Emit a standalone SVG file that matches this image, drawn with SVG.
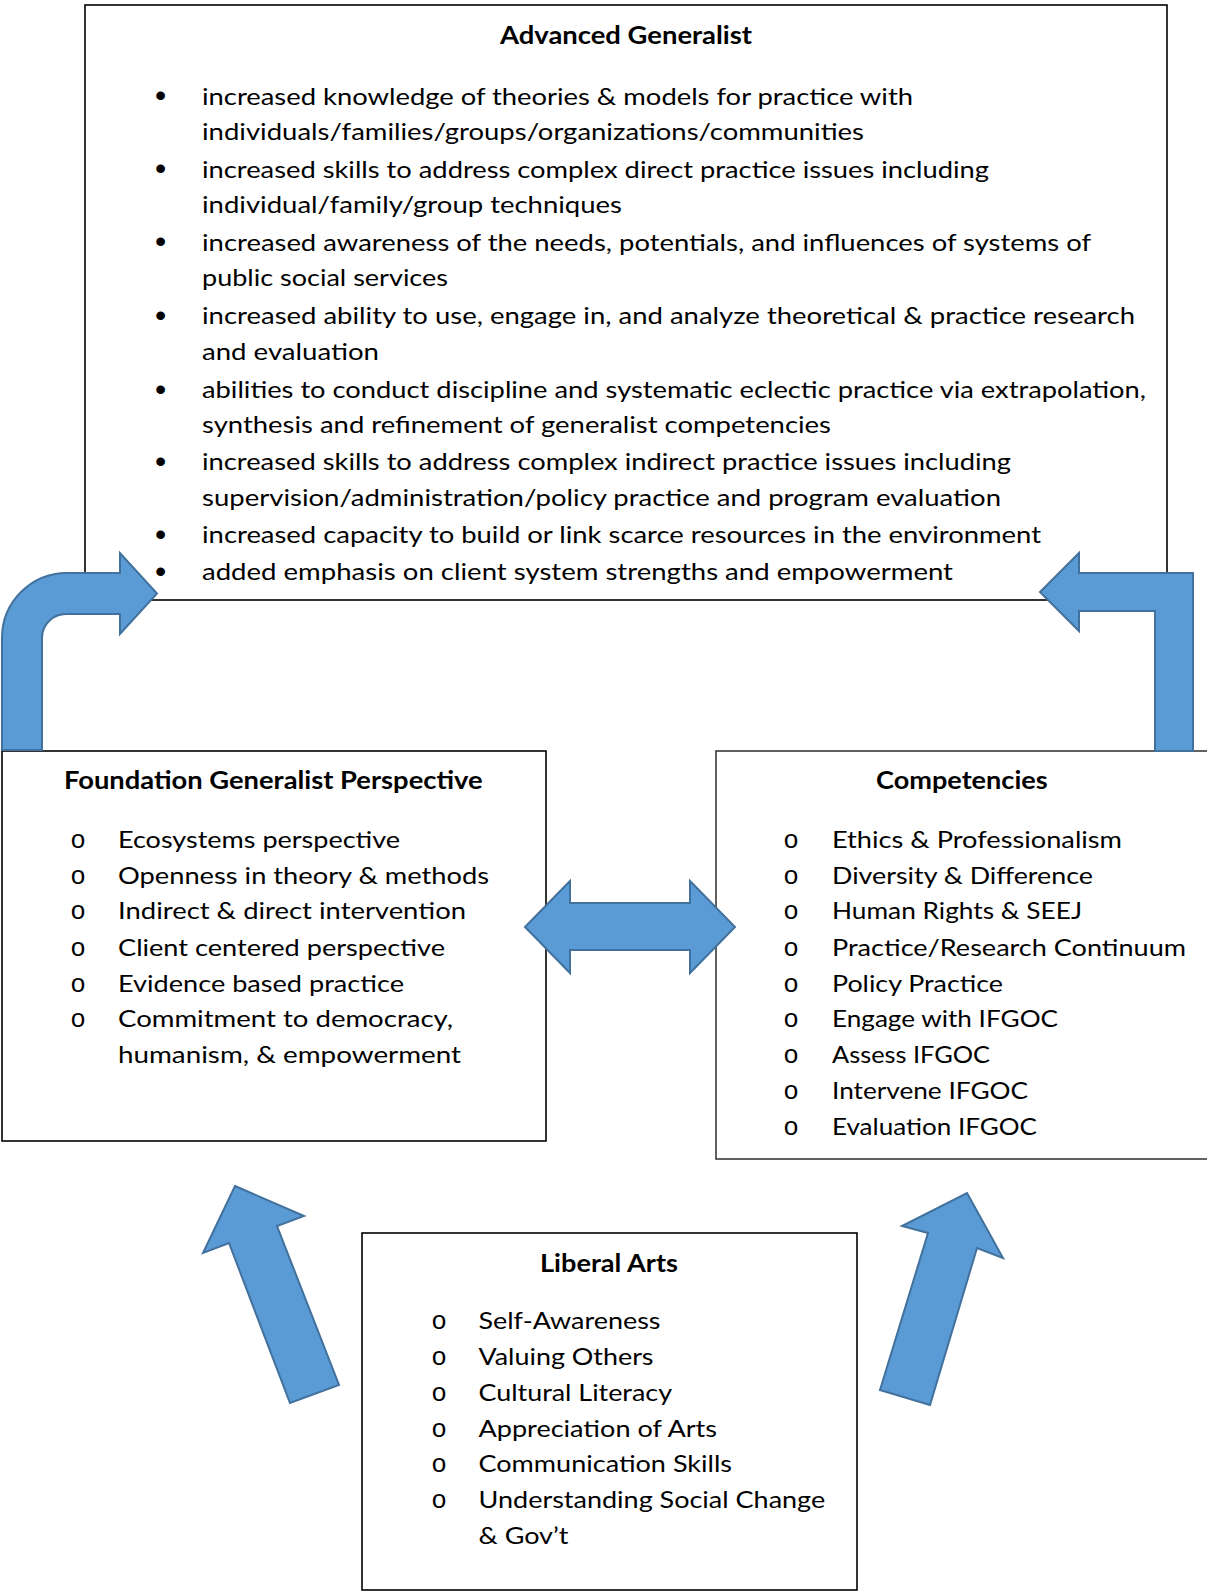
<svg xmlns="http://www.w3.org/2000/svg" width="1207" height="1593" viewBox="0 0 1207 1593">
<style>
.box{fill:#fff;stroke:#000;stroke-width:1.6}
.box2{fill:#fff;stroke:#3a3a3a;stroke-width:1.6}
.t{font-family:Lato,"Open Sans",sans-serif;font-size:24px;fill:#000}
.h{font-family:Lato,"Open Sans",sans-serif;font-size:24px;font-weight:bold;fill:#000}
.b{font-family:"Liberation Sans",Arial,sans-serif;font-size:32px;fill:#000;text-anchor:middle}
.o{font-family:"Liberation Mono","Courier New",monospace;font-size:26px;fill:#000;text-anchor:middle}
.arr{fill:#5b9bd5;stroke:#41719c;stroke-width:2;stroke-linejoin:miter}
</style>
<rect width="1207" height="1593" fill="#fff"/>
<g id="advanced-generalist">
<rect class="box" x="85" y="5" width="1082" height="595"/>
<text class="h" x="500" y="44" textLength="252" lengthAdjust="spacingAndGlyphs">Advanced Generalist</text>
<g transform="translate(0,-2)">
<text class="b" x="160.5" y="108">•</text>
<text class="t" x="202" y="106.5" textLength="711" lengthAdjust="spacingAndGlyphs">increased knowledge of theories &amp; models for practice with</text>
<text class="t" x="202" y="142" textLength="662" lengthAdjust="spacingAndGlyphs">individuals/families/groups/organizations/communities</text>
<text class="b" x="160.5" y="181.2">•</text>
<text class="t" x="202" y="179.7" textLength="787" lengthAdjust="spacingAndGlyphs">increased skills to address complex direct practice issues including</text>
<text class="t" x="202" y="215.2" textLength="420" lengthAdjust="spacingAndGlyphs">individual/family/group techniques</text>
<text class="b" x="160.5" y="254.3">•</text>
<text class="t" x="202" y="252.8" textLength="889" lengthAdjust="spacingAndGlyphs">increased awareness of the needs, potentials, and influences of systems of</text>
<text class="t" x="202" y="288.4" textLength="246" lengthAdjust="spacingAndGlyphs">public social services</text>
<text class="b" x="160.5" y="327.5">•</text>
<text class="t" x="202" y="326" textLength="933" lengthAdjust="spacingAndGlyphs">increased ability to use, engage in, and analyze theoretical &amp; practice research</text>
<text class="t" x="202" y="361.5" textLength="177" lengthAdjust="spacingAndGlyphs">and evaluation</text>
<text class="b" x="160.5" y="401.5">•</text>
<text class="t" x="202" y="400" textLength="944" lengthAdjust="spacingAndGlyphs">abilities to conduct discipline and systematic eclectic practice via extrapolation,</text>
<text class="t" x="202" y="434.7" textLength="629" lengthAdjust="spacingAndGlyphs">synthesis and refinement of generalist competencies</text>
<text class="b" x="160.5" y="473.8">•</text>
<text class="t" x="202" y="472.3" textLength="809" lengthAdjust="spacingAndGlyphs">increased skills to address complex indirect practice issues including</text>
<text class="t" x="202" y="507.8" textLength="799" lengthAdjust="spacingAndGlyphs">supervision/administration/policy practice and program evaluation</text>
<text class="b" x="160.5" y="546.9">•</text>
<text class="t" x="202" y="545.4" textLength="839" lengthAdjust="spacingAndGlyphs">increased capacity to build or link scarce resources in the environment</text>
<text class="b" x="160.5" y="583.5">•</text>
<text class="t" x="202" y="582" textLength="751" lengthAdjust="spacingAndGlyphs">added emphasis on client system strengths and empowerment</text>
</g>
</g>
<g id="foundation-generalist">
<rect class="box" x="2" y="751" width="544" height="390"/>
<text class="h" x="64" y="788.5" textLength="418.6" lengthAdjust="spacingAndGlyphs">Foundation Generalist Perspective</text>
<g transform="translate(0,-2)">
<text class="o" x="78" y="850.2">o</text>
<text class="t" x="118" y="850.2" textLength="282" lengthAdjust="spacingAndGlyphs">Ecosystems perspective</text>
<text class="o" x="78" y="885.8">o</text>
<text class="t" x="118" y="885.8" textLength="371" lengthAdjust="spacingAndGlyphs">Openness in theory &amp; methods</text>
<text class="o" x="78" y="921.4">o</text>
<text class="t" x="118" y="921.4" textLength="348" lengthAdjust="spacingAndGlyphs">Indirect &amp; direct intervention</text>
<text class="o" x="78" y="957.9">o</text>
<text class="t" x="118" y="957.9" textLength="327" lengthAdjust="spacingAndGlyphs">Client centered perspective</text>
<text class="o" x="78" y="993.5">o</text>
<text class="t" x="118" y="993.5" textLength="286" lengthAdjust="spacingAndGlyphs">Evidence based practice</text>
<text class="o" x="78" y="1029">o</text>
<text class="t" x="118" y="1029" textLength="335" lengthAdjust="spacingAndGlyphs">Commitment to democracy,</text>
<text class="t" x="118" y="1064.6" textLength="343" lengthAdjust="spacingAndGlyphs">humanism, &amp; empowerment</text>
</g>
</g>
<g id="competencies">
<rect class="box2" x="716" y="751" width="520" height="408"/>
<text class="h" x="876" y="788.5" textLength="171.7" lengthAdjust="spacingAndGlyphs">Competencies</text>
<g transform="translate(0,-2)">
<text class="o" x="791" y="850.2">o</text>
<text class="t" x="832" y="850.2" textLength="290" lengthAdjust="spacingAndGlyphs">Ethics &amp; Professionalism</text>
<text class="o" x="791" y="885.8">o</text>
<text class="t" x="832" y="885.8" textLength="261" lengthAdjust="spacingAndGlyphs">Diversity &amp; Difference</text>
<text class="o" x="791" y="921.4">o</text>
<text class="t" x="832" y="921.4" textLength="250" lengthAdjust="spacingAndGlyphs">Human Rights &amp; SEEJ</text>
<text class="o" x="791" y="957.9">o</text>
<text class="t" x="832" y="957.9" textLength="354" lengthAdjust="spacingAndGlyphs">Practice/Research Continuum</text>
<text class="o" x="791" y="993.5">o</text>
<text class="t" x="832" y="993.5" textLength="171" lengthAdjust="spacingAndGlyphs">Policy Practice</text>
<text class="o" x="791" y="1029">o</text>
<text class="t" x="832" y="1029" textLength="226" lengthAdjust="spacingAndGlyphs">Engage with IFGOC</text>
<text class="o" x="791" y="1064.6">o</text>
<text class="t" x="832" y="1064.6" textLength="158" lengthAdjust="spacingAndGlyphs">Assess IFGOC</text>
<text class="o" x="791" y="1101.1">o</text>
<text class="t" x="832" y="1101.1" textLength="196" lengthAdjust="spacingAndGlyphs">Intervene IFGOC</text>
<text class="o" x="791" y="1136.7">o</text>
<text class="t" x="832" y="1136.7" textLength="205" lengthAdjust="spacingAndGlyphs">Evaluation IFGOC</text>
</g>
</g>
<g id="liberal-arts">
<rect class="box" x="362" y="1233" width="495" height="357"/>
<text class="h" x="540" y="1272" textLength="138" lengthAdjust="spacingAndGlyphs">Liberal Arts</text>
<g transform="translate(0,-1.5)">
<text class="o" x="439" y="1330.7">o</text>
<text class="t" x="478.5" y="1330.7" textLength="182" lengthAdjust="spacingAndGlyphs">Self-Awareness</text>
<text class="o" x="439" y="1366.7">o</text>
<text class="t" x="478.5" y="1366.7" textLength="175" lengthAdjust="spacingAndGlyphs">Valuing Others</text>
<text class="o" x="439" y="1402.7">o</text>
<text class="t" x="478.5" y="1402.7" textLength="193.5" lengthAdjust="spacingAndGlyphs">Cultural Literacy</text>
<text class="o" x="439" y="1438.3">o</text>
<text class="t" x="478.5" y="1438.3" textLength="238.5" lengthAdjust="spacingAndGlyphs">Appreciation of Arts</text>
<text class="o" x="439" y="1473.3">o</text>
<text class="t" x="478.5" y="1473.3" textLength="253.5" lengthAdjust="spacingAndGlyphs">Communication Skills</text>
<text class="o" x="439" y="1509.3">o</text>
<text class="t" x="478.5" y="1509.3" textLength="346.7" lengthAdjust="spacingAndGlyphs">Understanding Social Change</text>
<text class="t" x="478.5" y="1545" textLength="90" lengthAdjust="spacingAndGlyphs">&amp; Gov’t</text>
</g>
</g>
<g id="connectors">
<path class="arr" d="M 2 750 L 2 638 A 65 65 0 0 1 67 573 L 120 573 L 120 553 L 157 593.5 L 120 634 L 120 614 L 66 614 A 24 24 0 0 0 42 638 L 42 750 Z"/>
<path class="arr" d="M 1193 751 L 1193 573 L 1079 573 L 1079 553 L 1040 592 L 1079 631 L 1079 611 L 1155 611 L 1155 751 Z"/>
<path class="arr" d="M 525 927 L 570 881 L 570 903 L 690 903 L 690 881 L 735 927 L 690 973 L 690 950 L 570 950 L 570 973 Z"/>
<path class="arr" d="M 235 1186 L 304 1216 L 277 1226 L 339 1385 L 290 1403 L 229 1243 L 203 1253 Z"/>
<path class="arr" d="M 967 1193 L 1003 1258 L 977 1248 L 930 1405 L 880 1390 L 928 1233 L 902 1226 Z"/>
</g>
</svg>
